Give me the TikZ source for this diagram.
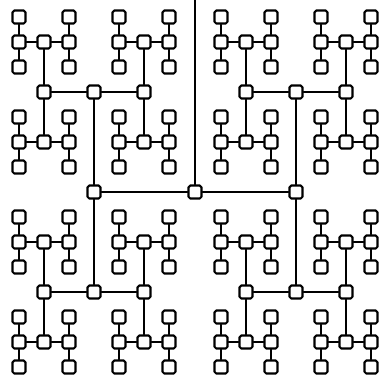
\documentclass[tikz,border=0pt]{standalone}
\usetikzlibrary{calc}

\begin{document}
\begin{tikzpicture}[x=0.02cm, y=-0.02cm, line join=round, line cap=round,
	sq/.style={draw, line width=1.2pt, fill=white, rounded corners=1pt, minimum size=0.26cm, inner sep=0pt},
	edge/.style={line width=0.9pt}]
	\useasboundingbox (0,0) rectangle (382,383);
	\def \ha{101} \def \va{100} \def \hb{50} \def \vb{50} \def \hc{25} \def \vc{25}
	\coordinate (top) at (195,0);
	\node[sq] (r) at (195,192) {};
	\draw[edge] (top) -- (r);
	
	\foreach \a in {-1,1} {
		\node[sq] (a\a) at ($(r)+(\a*\ha,0)$) {};
		\draw[edge] (r) -- (a\a);
		\foreach \b in {-1,1} {
			\node[sq] (b\a\b) at ($(a\a)+(0,\b*\va)$) {};
			\draw[edge] (a\a) -- (b\a\b);
			\foreach \c in {-1,1} {
				\node[sq] (c\a\b\c) at ($(b\a\b)+(\c*\hb,0)$) {};
				\draw[edge] (b\a\b) -- (c\a\b\c);
				\foreach \d in {-1,1} {
					\node[sq] (d\a\b\c\d) at ($(c\a\b\c)+(0,\d*\vb)$) {};
					\draw[edge] (c\a\b\c) -- (d\a\b\c\d);
					\foreach \e in {-1,1} {
						\node[sq] (e\a\b\c\d\e) at ($(d\a\b\c\d)+(\e*\hc,0)$) {};
						\draw[edge] (d\a\b\c\d) -- (e\a\b\c\d\e);
						\foreach \f in {-1,1} {
							\node[sq] (f\a\b\c\d\e\f) at ($(e\a\b\c\d\e)+(0,\f*\vc)$) {};
							\draw[edge] (e\a\b\c\d\e) -- (f\a\b\c\d\e\f);
						}
					}
				}
			}
		}
	}
\end{tikzpicture}
\end{document}
